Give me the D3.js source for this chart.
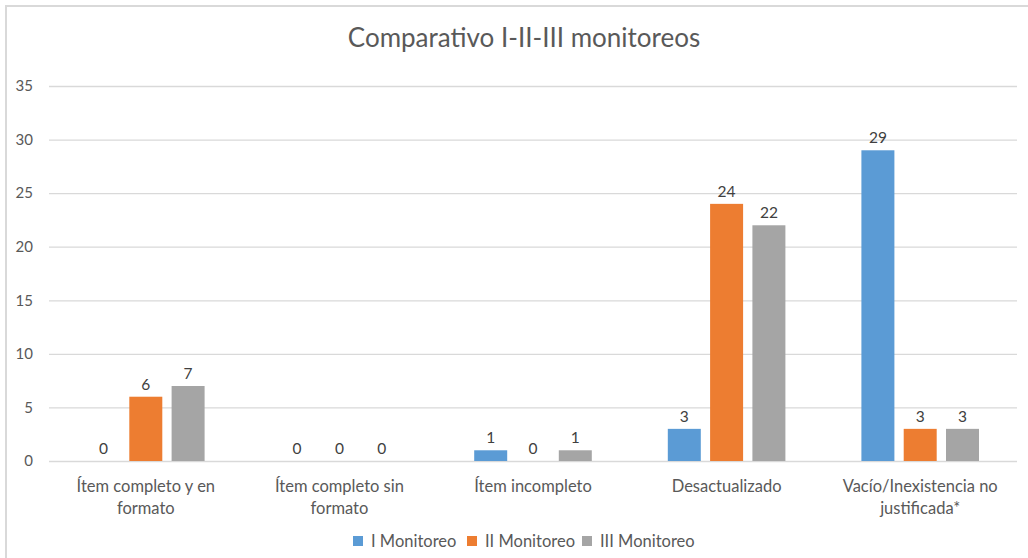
<!DOCTYPE html>
<html>
<head>
<meta charset="utf-8">
<script src="https://cdnjs.cloudflare.com/ajax/libs/d3/7.8.5/d3.min.js"></script>
<style>
  body { margin: 0; background: #fff; }
  text { font-family: Lato, "Open Sans", sans-serif; }
</style>
</head>
<body>
<div id="chart"></div>
<script>
// Comparativo I-II-III monitoreos - grouped bars

// Data
// =======================================
var categories = [
  "Ítem completo y en formato",
  "Ítem completo sin formato",
  "Ítem incompleto",
  "Desactualizado",
  "Vacío/Inexistencia no justificada*"
];
var seriesNames = ["I Monitoreo", "II Monitoreo", "III Monitoreo"];
var monitoreo1 = [0, 0, 1, 3, 29];
var monitoreo2 = [6, 0, 0, 24, 3];
var monitoreo3 = [7, 0, 1, 22, 3];
var yTicks = [0, 5, 10, 15, 20, 25, 30, 35];
var colors = ["#5B9BD5", "#ED7D31", "#A5A5A5"];

var seriesValues = [monitoreo1, monitoreo2, monitoreo3];

// Sizes
// =======================================
var width = 1028;
var height = 558;
var plotLeft = 49;
var plotRight = 1017;
var plotTop = 86;
var plotBottom = 461;

var svg = d3.select("#chart")
  .append("svg")
  .attr("width", width)
  .attr("height", height);

// chart frame (only top and left edges show inside the picture)
svg.append("rect")
  .attr("x", 6)
  .attr("y", 6)
  .attr("width", 1100)
  .attr("height", 700)
  .attr("fill", "#fff")
  .attr("stroke", "#d9d9d9")
  .attr("stroke-width", 2);

// Scales
// =======================================
var x0 = d3.scaleBand()
  .domain(categories)
  .range([plotLeft, plotRight])
  .paddingInner(0.3926)
  .paddingOuter(0.1963);

var x1 = d3.scaleBand()
  .domain(seriesNames)
  .range([0, x0.bandwidth()])
  .paddingInner(0.22);

var y = d3.scaleLinear()
  .domain([0, 35])
  .range([plotBottom, plotTop]);

// Gridlines + y labels
// =======================================
var yAxis = d3.axisLeft(y)
  .tickValues(yTicks)
  .tickSize(-(plotRight - plotLeft))
  .tickPadding(16);

var yG = svg.append("g")
  .attr("transform", "translate(" + plotLeft + ",0)")
  .call(yAxis);
yG.select(".domain").remove();
yG.selectAll(".tick line")
  .attr("stroke", "#d9d9d9")
  .attr("stroke-width", 1.3);
yG.selectAll(".tick text")
  .attr("fill", "#595959")
  .style("font-size", "15px")
  .style("font-family", "Lato, sans-serif");

// Bars
// =======================================
var rows = categories.map(function(c, i) {
  return seriesNames.map(function(s, j) {
    return { cat: c, series: s, value: seriesValues[j][i], color: colors[j] };
  });
});

var groups = svg.selectAll(".grp")
  .data(rows)
  .enter()
  .append("g")
  .attr("class", "grp")
  .attr("transform", function(d) { return "translate(" + x0(d[0].cat) + ",0)"; });

groups.selectAll("rect")
  .data(function(d) { return d; })
  .enter()
  .append("rect")
  .attr("x", function(d) { return x1(d.series); })
  .attr("y", function(d) { return y(d.value); })
  .attr("width", x1.bandwidth())
  .attr("height", function(d) { return y(0) - y(d.value); })
  .attr("fill", function(d) { return d.color; });

groups.selectAll("text")
  .data(function(d) { return d; })
  .enter()
  .append("text")
  .attr("x", function(d) { return x1(d.series) + x1.bandwidth() / 2; })
  .attr("y", function(d) { return y(d.value) - 7; })
  .attr("text-anchor", "middle")
  .attr("fill", "#404040")
  .style("font-size", "15.5px")
  .text(function(d) { return d.value; });

// Category labels
// =======================================
var xAxis = d3.axisBottom(x0).tickSize(0).tickPadding(19);
var xG = svg.append("g")
  .attr("transform", "translate(0," + plotBottom + ")")
  .call(xAxis);
xG.select(".domain").remove();
xG.selectAll(".tick text")
  .attr("fill", "#595959")
  .style("font-size", "16.5px")
  .style("font-family", "Lato, sans-serif")
  .call(wrap, 180);

function wrap(sel, maxW) {
  sel.each(function() {
    var t = d3.select(this);
    var words = t.text().split(" ");
    var line = [];
    t.text(null);
    var ts = t.append("tspan").attr("x", 0).attr("dy", "0.71em");
    words.forEach(function(w) {
      line.push(w);
      ts.text(line.join(" "));
      if (ts.node().getComputedTextLength() > maxW && line.length > 1) {
        line.pop();
        ts.text(line.join(" "));
        line = [w];
        ts = t.append("tspan").attr("x", 0).attr("dy", "22px").text(w);
      }
    });
  });
}

// Title
// =======================================
svg.append("text")
  .attr("x", 524)
  .attr("y", 47)
  .attr("text-anchor", "middle")
  .attr("fill", "#595959")
  .style("font-size", "26px")
  .text("Comparativo I-II-III monitoreos");

// Legend
// =======================================
var legendX = [353, 467, 582];
var legend = svg.selectAll(".leg")
  .data(seriesNames)
  .enter()
  .append("g")
  .attr("class", "leg")
  .attr("transform", function(d, i) { return "translate(" + legendX[i] + ",536)"; });

legend.append("rect")
  .attr("width", 10)
  .attr("height", 10)
  .attr("fill", function(d, i) { return colors[i]; });

legend.append("text")
  .attr("x", 18)
  .attr("y", 11)
  .attr("fill", "#595959")
  .style("font-size", "16.5px")
  .text(function(d) { return d; });
</script>
</body>
</html>
